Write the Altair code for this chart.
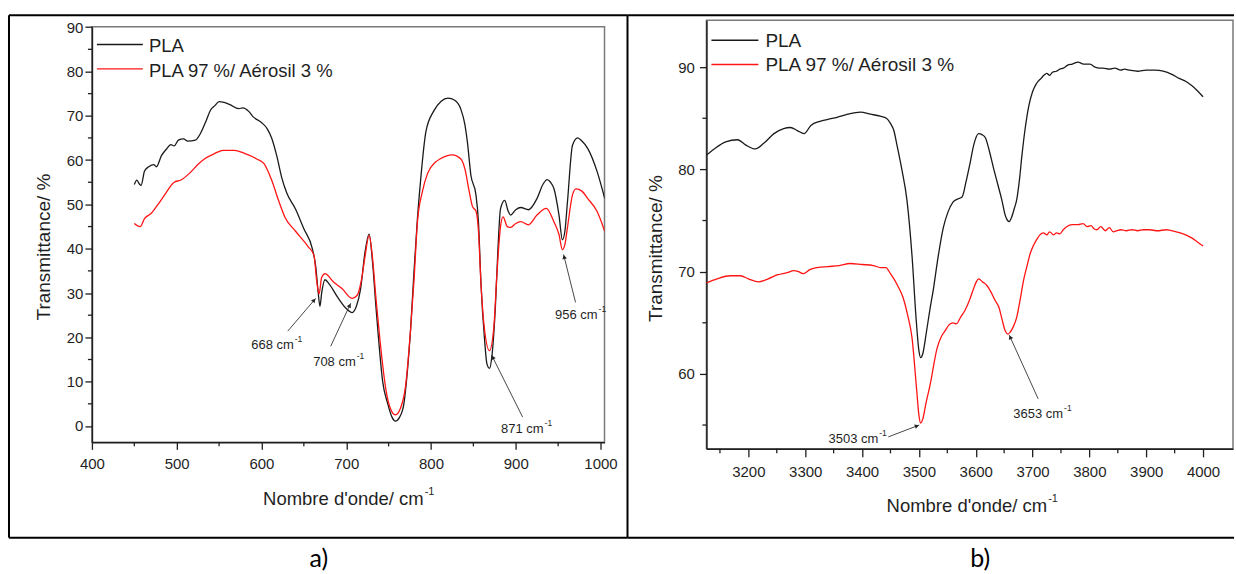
import math
import altair as alt
import pandas as pd

# ---------------- data ----------------
SERIES = ["PLA", "PLA 97 %/ Aérosil 3 %"]
COLORS = ["#1a1a1a", "#ff1414"]

# panel a) 400-1005 cm-1
a_pla_wn = [450, 453, 456, 458, 462, 467, 473, 476, 482, 488, 493, 497, 502, 508, 513, 522, 528, 535, 540, 545,
            550, 556, 563, 573, 578, 585, 590, 600, 607, 612, 618, 624, 630, 640, 650, 660, 664, 667, 669, 671,
            675, 680, 690, 700, 707, 712, 717, 722, 727, 731, 735, 738, 743, 749, 754, 758, 763, 768, 772, 776,
            780, 784, 788, 794, 803, 812, 820, 828, 835, 840, 843, 847, 853, 856, 859, 863, 866, 869, 872, 876,
            879, 882, 887, 891, 894, 900, 906, 915, 925, 932, 937, 941, 945, 951, 955, 958, 961, 967, 973, 978,
            985, 996, 1005]
a_pla_t = [54.5, 55.5, 54.6, 54.3, 57.5, 58.5, 59.0, 58.5, 61.0, 62.5, 63.5, 63.2, 64.5, 64.8, 64.3, 64.5, 66.0, 69.0, 71.3, 72.3,
           73.2, 73.0, 72.5, 71.6, 71.8, 71.0, 69.8, 68.5, 67.0, 65.0, 61.0, 56.0, 52.5, 49.0, 44.5, 40.0, 36.0, 30.0, 27.0, 30.0,
           33.0, 32.0, 29.0, 26.5, 25.6, 27.0, 31.0, 39.0, 43.3, 37.0, 27.0, 20.0, 10.0, 5.0, 2.0, 1.1, 2.0, 5.0, 12.0, 22.0,
           35.0, 46.8, 56.0, 66.4, 71.0, 73.3, 74.0, 73.5, 71.6, 68.0, 64.0, 56.7, 52.2, 46.0, 32.0, 20.0, 14.0, 13.0, 16.0, 27.0,
           40.0, 49.0, 50.9, 48.5, 47.6, 48.8, 49.3, 48.8, 51.3, 54.5, 55.6, 55.0, 53.6, 47.6, 42.0, 44.0, 50.6, 63.4, 65.0, 64.3,
           62.6, 57.4, 51.3]
a_aer_wn = [450, 457, 462, 470, 478, 487, 497, 505, 515, 525, 533, 545, 555, 568, 580, 595, 603, 612, 620, 628,
            640, 655, 662, 665, 668, 671, 675, 685, 695, 707, 713, 718, 722, 727, 731, 735, 740, 747, 752, 758,
            764, 770, 776, 780, 784, 790, 796, 805, 811, 825, 835, 840, 845, 849, 853, 856, 859, 863, 869, 874,
            878, 882, 885, 890, 894, 900, 906, 915, 925, 936, 945, 951, 955, 958, 961, 967, 971, 978, 985, 996,
            1005]
a_aer_t = [45.7, 45.0, 46.8, 48.0, 50.0, 52.5, 55.0, 55.5, 57.0, 59.0, 60.3, 61.5, 62.2, 62.2, 61.5, 60.2, 59.2, 55.5, 51.0, 47.0,
           44.0, 40.5, 38.5, 33.0, 29.8, 33.5, 34.4, 32.5, 31.0, 28.8, 29.5, 33.0, 38.0, 43.0, 38.0, 29.0, 19.0, 8.0, 4.0, 2.5,
           4.0, 9.0, 22.0, 33.0, 46.0, 53.0, 57.0, 59.5, 60.3, 61.2, 60.3, 58.0, 53.0, 49.5, 48.5, 44.0, 32.0, 22.0, 17.0, 22.0,
           35.0, 45.0, 47.2, 45.0, 44.8, 45.7, 46.1, 45.4, 47.6, 49.1, 46.1, 43.2, 39.8, 41.0, 44.8, 52.2, 53.5, 53.0, 51.3, 48.4,
           43.9]

# panel b) 3126-4050 cm-1
b_pla_wn = [3126, 3140, 3160, 3181, 3195, 3212, 3228, 3245, 3262, 3274, 3286, 3298, 3310, 3326, 3340, 3356, 3375, 3397, 3415, 3432,
            3443, 3450, 3456, 3461, 3470, 3479, 3488, 3495, 3500, 3503, 3507, 3513, 3520, 3525, 3534, 3543, 3551, 3560, 3568, 3576,
            3583, 3590, 3597, 3605, 3611, 3617, 3624, 3631, 3639, 3646, 3652, 3656, 3659, 3663, 3668, 3672, 3677, 3681, 3687, 3693,
            3700, 3707, 3715, 3720, 3725, 3730, 3735, 3742, 3748, 3754, 3762, 3770, 3780, 3790, 3801, 3810, 3818, 3824, 3835, 3845,
            3855, 3862, 3871, 3885, 3900, 3915, 3930, 3945, 3958, 3970, 3980, 3990, 4000]
b_pla_t = [81.4, 82.0, 82.7, 82.9, 82.4, 82.0, 82.6, 83.5, 84.0, 84.1, 83.8, 83.5, 84.3, 84.7, 84.9, 85.1, 85.4, 85.6, 85.4, 85.2,
           85.0, 84.5, 83.8, 82.5, 80.0, 77.0, 71.5, 65.5, 62.3, 61.6, 62.0, 64.0, 66.5, 68.1, 71.5, 74.3, 75.8, 76.8, 77.1, 77.3,
           78.8, 80.6, 82.5, 83.5, 83.4, 83.1, 81.8, 80.2, 78.5, 77.0, 75.5, 75.0, 74.9, 75.3, 76.2, 77.0, 79.0, 81.2, 84.0, 86.1,
           87.6, 88.4, 88.9, 89.2, 89.4, 89.2, 89.5, 89.6, 89.8, 89.9, 90.2, 90.3, 90.5, 90.3, 90.3, 90.0, 89.9, 89.9, 89.8, 89.9,
           89.7, 89.8, 89.7, 89.6, 89.7, 89.7, 89.6, 89.3, 88.9, 88.6, 88.2, 87.7, 87.1]
b_aer_wn = [3126, 3145, 3168, 3186, 3200, 3218, 3235, 3252, 3268, 3280, 3288, 3297, 3308, 3321, 3340, 3360, 3379, 3400, 3420, 3432,
            3442, 3450, 3455, 3463, 3472, 3480, 3488, 3496, 3500, 3503, 3507, 3512, 3520, 3532, 3540, 3546, 3553, 3560, 3566, 3574,
            3581, 3589, 3596, 3601, 3605, 3612, 3619, 3626, 3634, 3641, 3646, 3652, 3657, 3661, 3666, 3672, 3678, 3684, 3690, 3696,
            3702, 3708, 3713, 3719, 3725, 3730, 3737, 3742, 3748, 3754, 3760, 3770, 3780, 3789, 3796, 3803, 3808, 3813, 3820, 3828,
            3835, 3842, 3848, 3856, 3865, 3875, 3885, 3895, 3906, 3920, 3935, 3953, 3965, 3980, 3990, 4000]
b_aer_t = [68.9, 69.3, 69.6, 69.6, 69.3, 69.0, 69.3, 69.7, 69.9, 70.1, 70.0, 69.8, 70.2, 70.4, 70.5, 70.6, 70.8, 70.7, 70.6, 70.4,
           70.4, 69.8, 69.4, 68.6, 67.5, 65.8, 63.5, 58.5, 56.0, 55.2, 55.6, 57.0, 59.0, 62.5, 63.7, 64.2, 64.8, 65.0, 64.9, 65.6,
           66.2, 67.2, 68.3, 69.0, 69.3, 69.0, 68.7, 68.1, 67.2, 66.5, 65.4, 64.2, 63.9, 64.1, 64.6, 65.5, 67.2, 69.1, 70.5, 71.8,
           72.6, 73.2, 73.6, 73.8, 73.6, 73.9, 73.6, 73.8, 73.7, 74.1, 74.4, 74.6, 74.6, 74.7, 74.4, 74.5, 74.2, 74.1, 74.4, 74.0,
           74.3, 73.9, 74.0, 74.1, 74.0, 74.1, 74.0, 74.1, 74.1, 74.0, 74.1, 73.9, 73.7, 73.3, 72.9, 72.5]

# axis ticks
a_x_major = [400, 500, 600, 700, 800, 900, 1000]
a_x_minor = [450, 550, 650, 750, 850, 950]
a_y_major = [0, 10, 20, 30, 40, 50, 60, 70, 80, 90]
a_y_minor = [5, 15, 25, 35, 45, 55, 65, 75, 85]
b_x_major = [3200, 3300, 3400, 3500, 3600, 3700, 3800, 3900, 4000]
b_x_minor = [3150, 3250, 3350, 3450, 3550, 3650, 3750, 3850, 3950]
b_y_major = [60, 70, 80, 90]
b_y_minor = [55, 65, 75, 85]

# peak annotations: label, text end (x, y), arrow tail (x, y), arrow head (x, y)
a_ann_lab = ["668 cm", "708 cm", "871 cm", "956 cm"]
a_ann_tx = [638.1, 711.2, 932.8, 996.5]
a_ann_ty = [18.2, 14.4, -0.7, 25.0]
a_ann_ax = [631.0, 681.7, 908.1, 970.5]
a_ann_ay = [21.4, 18.0, 2.0, 27.9]
a_ann_hx = [664.0, 705.3, 871.5, 956.4]
a_ann_hy = [28.8, 27.7, 16.0, 38.7]

b_ann_lab = ["3503 cm", "3653 cm"]
b_ann_tx = [3428.6, 3753.8]
b_ann_ty = [53.65, 56.1]
b_ann_ax = [3446.2, 3709.9]
b_ann_ay = [53.84, 57.56]
b_ann_hx = [3500.7, 3658.9]
b_ann_hy = [55.0, 63.81]

FONT = "Liberation Sans"
INK = "#1f1f1f"
ONE = pd.DataFrame({"k": [0]})


def panel(pla_wn, pla_t, aer_wn, aer_t, xdom, ydom, w, h,
          xmaj, xmin_v, ymaj, ymin_v, ann, g):
    df = pd.concat([
        pd.DataFrame({"wn": pla_wn, "T": pla_t, "s": SERIES[0]}),
        pd.DataFrame({"wn": aer_wn, "T": aer_t, "s": SERIES[1]}),
    ], ignore_index=True)
    xs = alt.Scale(domain=xdom, nice=False, zero=False)
    ys = alt.Scale(domain=ydom, nice=False, zero=False)
    xa = alt.Axis(values=xmaj, tickSize=g["xtick"], labelPadding=g["xlabpad"], title=None, grid=False,
                  labelFlush=False, labelOverlap=False, format="d")
    ya = alt.Axis(values=ymaj, tickSize=g["ytick"], labelPadding=g["ylabpad"], title=None, grid=False,
                  labelFlush=False, labelOverlap=False, format="d")

    def X(f):
        return alt.X(f, type="quantitative", scale=xs, axis=xa)

    def Y(f):
        return alt.Y(f, type="quantitative", scale=ys, axis=ya)

    layers = []
    layers.append(alt.Chart(df).mark_line(strokeWidth=1.3, clip=True, interpolate="monotone").encode(
        x=X("wn"), y=Y("T"),
        color=alt.Color("s:N", scale=alt.Scale(domain=SERIES, range=COLORS), legend=None)))

    # minor ticks
    layers.append(alt.Chart(pd.DataFrame({"v": xmin_v})).mark_rule(color=INK, strokeWidth=1.3).encode(
        x=X("v"), y=alt.value(h), y2=alt.value(h + g["xmintick"])))
    layers.append(alt.Chart(pd.DataFrame({"v": ymin_v})).mark_rule(color=INK, strokeWidth=1.3).encode(
        y=Y("v"), x=alt.value(0), x2=alt.value(-g["ymintick"])))

    # annotations
    lab, tx, ty, ax_, ay_, hx, hy = ann
    pxx = w / (xdom[1] - xdom[0])
    pxy = h / (ydom[1] - ydom[0])
    ang, cx, cy = [], [], []
    for i in range(len(lab)):
        dx = (hx[i] - ax_[i]) * pxx
        dy = -(hy[i] - ay_[i]) * pxy
        L = math.hypot(dx, dy)
        ang.append(math.degrees(math.atan2(dx, -dy)) % 360)
        back = 2.5
        cx.append(hx[i] - back * dx / L / pxx)
        cy.append(hy[i] + back * dy / L / pxy)
    adf = pd.DataFrame({"lab": lab, "tx": tx, "ty": ty, "ax": ax_, "ay": ay_, "hx": hx, "hy": hy,
                        "ang": ang, "cx": cx, "cy": cy})
    layers.append(alt.Chart(adf).mark_rule(color="#333333", strokeWidth=0.9).encode(
        x=X("ax"), y=Y("ay"), x2="hx", y2="hy"))
    layers.append(alt.Chart(adf).mark_point(shape="triangle-up", filled=True, size=22, color="#222222",
                                            opacity=1).encode(
        x=X("cx"), y=Y("cy"), angle=alt.Angle("ang:Q", scale=None)))
    layers.append(alt.Chart(adf).mark_text(align="right", baseline="middle", font=FONT, fontSize=13, color=INK).encode(
        x=X("tx"), y=Y("ty"), text="lab:N"))
    layers.append(alt.Chart(adf).mark_text(align="left", baseline="middle", font=FONT, fontSize=8.5, dx=1, dy=-6,
                                           color=INK).encode(x=X("tx"), y=Y("ty"), text=alt.value("-1")))

    # legend
    for i, s in enumerate(SERIES):
        ly = g["leg_y"][i]
        layers.append(alt.Chart(ONE).mark_rule(strokeWidth=1.4, color=COLORS[i]).encode(
            x=alt.value(g["leg_x0"]), x2=alt.value(g["leg_x1"]), y=alt.value(ly)))
        layers.append(alt.Chart(ONE).mark_text(align="left", baseline="middle", font=FONT, fontSize=g["leg_fs"],
                                               color=INK).encode(
            x=alt.value(g["leg_tx"]), y=alt.value(ly + g["leg_dy"]), text=alt.value(s)))

    # axis titles
    layers.append(alt.Chart(ONE).mark_text(align="center", baseline="middle", angle=270, font=FONT, fontSize=19,
                                           color=INK).encode(
        x=alt.value(g["yt_x"]), y=alt.value(g["yt_y"]), text=alt.value("Transmittance/ %")))
    layers.append(alt.Chart(ONE).mark_text(align="right", baseline="middle", font=FONT, fontSize=18.5,
                                           color=INK).encode(
        x=alt.value(g["xt_x"]), y=alt.value(g["xt_y"]), text=alt.value("Nombre d'onde/ cm")))
    layers.append(alt.Chart(ONE).mark_text(align="left", baseline="middle", font=FONT, fontSize=11,
                                           color=INK).encode(
        x=alt.value(g["xt_x"] + 1), y=alt.value(g["xt_y"] - 7), text=alt.value("-1")))

    # table frame
    for (x0, x1, y0, y1) in g["frame"]:
        if y0 == y1:
            enc = dict(x=alt.value(x0), x2=alt.value(x1), y=alt.value(y0))
        else:
            enc = dict(x=alt.value(x0), y=alt.value(y0), y2=alt.value(y1))
        layers.append(alt.Chart(ONE).mark_rule(color="#000000", strokeWidth=2).encode(**enc))

    # caption
    layers.append(alt.Chart(ONE).mark_text(align="center", baseline="middle", font="Lato", fontSize=25,
                                           color="#000000").encode(
        x=alt.value(g["cap_x"]), y=alt.value(g["cap_y"]), text=alt.value(g["cap"])))

    return alt.layer(*layers).properties(width=w, height=h)


left = panel(a_pla_wn, a_pla_t, a_aer_wn, a_aer_t, [400, 1004.7], [-3.7, 90.1], 513, 416,
             a_x_major, a_x_minor, a_y_major, a_y_minor,
             (a_ann_lab, a_ann_tx, a_ann_ty, a_ann_ax, a_ann_ay, a_ann_hx, a_ann_hy),
             dict(xtick=7, xmintick=4, ytick=7, ymintick=4, xlabpad=7, ylabpad=2,
                  leg_y=[17.8, 42.2], leg_x0=5, leg_x1=51, leg_tx=57, leg_dy=2, leg_fs=18.5,
                  yt_x=-48, yt_y=220.5, xt_x=332, xt_y=472.5,
                  frame=[(-83, 536, -11.5, -11.5), (-83, 536, 511.5, 511.5),
                         (-83, -83, -11.5, 511.5), (536, 536, -11.5, 511.5)],
                  cap="a)", cap_x=227, cap_y=532.5))

right = panel(b_pla_wn, b_pla_t, b_aer_wn, b_aer_t, [3126.2, 4052.7], [52.67, 94.59], 527, 429,
              b_x_major, b_x_minor, b_y_major, b_y_minor,
              (b_ann_lab, b_ann_tx, b_ann_ty, b_ann_ax, b_ann_ay, b_ann_hx, b_ann_hy),
              dict(xtick=8, xmintick=4.5, ytick=7, ymintick=4, xlabpad=8, ylabpad=5,
                   leg_y=[20, 44.3], leg_x0=5, leg_x1=52, leg_tx=59, leg_dy=1, leg_fs=19,
                   yt_x=-50, yt_y=228.5, xt_x=341, xt_y=486.5,
                   frame=[(-79, 528, -5, -5), (-79, 528, 518, 518)],
                   cap="b)", cap_x=274, cap_y=539))

chart = alt.hconcat(left, right, spacing=102, bounds="flush", center=True).configure_view(
    stroke="#7a7a7a", strokeWidth=1.5
).configure_axis(
    domainColor=INK, domainWidth=1.5, tickColor=INK, tickWidth=1.3,
    labelFont=FONT, labelFontSize=15, labelColor=INK
).properties(
    padding={"left": 7, "top": 13, "right": 0, "bottom": 0},
    background="white"
)

chart.save("out.html", embed_options={"renderer": "svg", "actions": False})
